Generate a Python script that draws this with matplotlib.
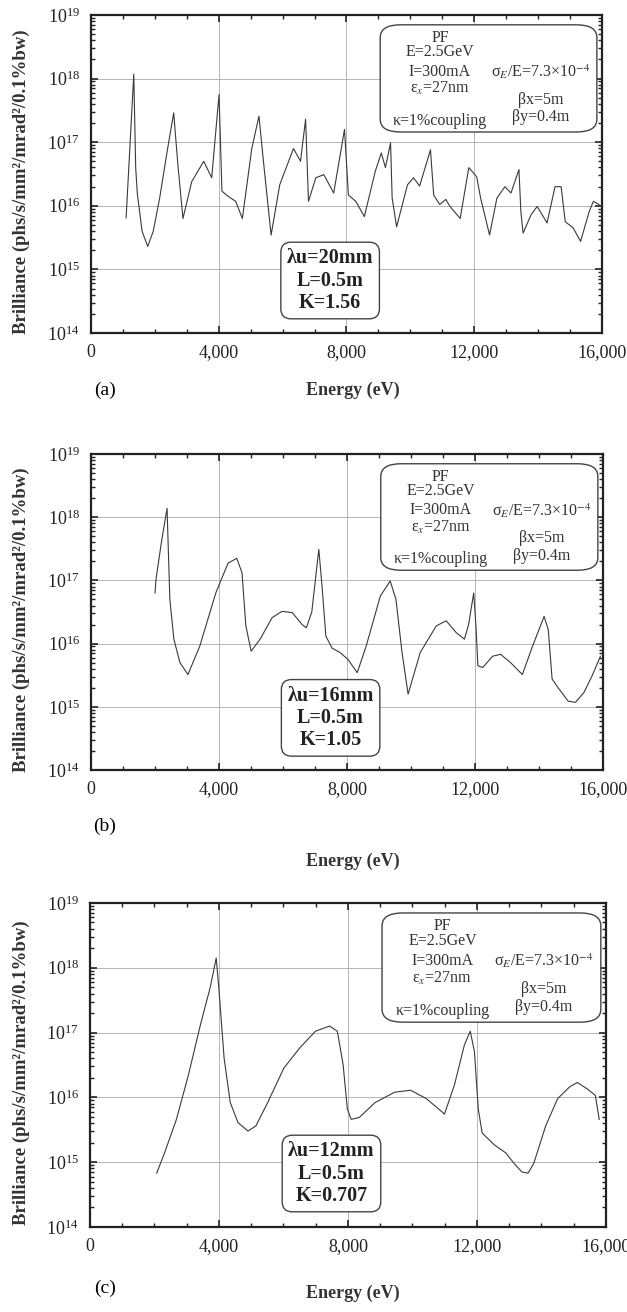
import numpy as np
import matplotlib
matplotlib.use('Agg')
import matplotlib.pyplot as plt
from matplotlib.patches import FancyBboxPatch
from matplotlib.ticker import LogLocator, MultipleLocator, FuncFormatter, LogFormatterMathtext, NullFormatter

plt.rcParams['font.family'] = ['Liberation Serif', 'DejaVu Serif']
plt.rcParams['mathtext.fontset'] = 'stix'

# photon energy (eV) and log10 brilliance
energy_a = [1100, 1200, 1340, 1400, 1450, 1600, 1777, 1950, 2150, 2400, 2590, 2720, 2880,
            3155, 3530, 3780, 4010, 4100, 4290, 4530, 4740, 5035, 5260, 5410, 5640, 5910,
            6340, 6560, 6720, 6810, 7040, 7290, 7600, 7938, 8060, 8290, 8560, 8900, 9090,
            9220, 9380, 9430, 9570, 9910, 10100, 10290, 10630, 10730, 10920, 11110, 11240,
            11560, 11830, 12020, 12080, 12200, 12480, 12710, 12960, 13150, 13400, 13460,
            13530, 13780, 13970, 14280, 14530, 14720, 14850, 15100, 15330, 15600, 15730, 15910]
log_brill_a = [15.81, 16.75, 18.07, 16.6, 16.2, 15.6, 15.36, 15.6, 16.12, 16.9, 17.46, 16.65,
               15.8, 16.38, 16.7, 16.44, 17.75, 16.23, 16.15, 16.07, 15.8, 16.9, 17.41, 16.65,
               15.54, 16.33, 16.9, 16.7, 17.36, 16.07, 16.44, 16.49, 16.2, 17.2, 16.17, 16.07,
               15.83, 16.54, 16.83, 16.6, 16.99, 16.12, 15.67, 16.33, 16.44, 16.31, 16.88,
               16.17, 16.02, 16.1, 15.99, 15.8, 16.6, 16.49, 16.45, 16.12, 15.54, 16.12, 16.3,
               16.2, 16.57, 15.91, 15.57, 15.86, 15.99, 15.73, 16.3, 16.3, 15.75, 15.65, 15.44,
               15.91, 16.07, 16.02]

energy_b = [2001, 2030, 2200, 2377, 2465, 2590, 2780, 3030, 3400, 3900, 4280, 4555, 4720,
            4840, 5005, 5285, 5660, 5970, 6290, 6600, 6730, 6900, 7120, 7220, 7340, 7530,
            7780, 8030, 8320, 8600, 9040, 9350, 9530, 9720, 9910, 10290, 10790, 11100, 11420,
            11670, 11800, 11960, 12030, 12090, 12240, 12550, 12800, 13110, 13480, 13800,
            14160, 14290, 14410, 14600, 14910, 15140, 15410, 15660, 15920]
log_brill_b = [16.8, 17.01, 17.6, 18.14, 16.7, 16.07, 15.7, 15.51, 15.96, 16.8, 17.27, 17.35,
               17.12, 16.28, 15.88, 16.07, 16.41, 16.51, 16.49, 16.3, 16.25, 16.5, 17.49, 16.91,
               16.12, 15.93, 15.86, 15.75, 15.54, 15.96, 16.75, 16.99, 16.7, 15.86, 15.2,
               15.86, 16.28, 16.36, 16.17, 16.07, 16.3, 16.8, 16.28, 15.65, 15.62, 15.8, 15.83,
               15.7, 15.51, 15.96, 16.43, 16.22, 15.44, 15.3, 15.09, 15.07, 15.23, 15.49, 15.8]

energy_c = [2068, 2310, 2680, 3050, 3430, 3730, 3914, 4001, 4160, 4350, 4590, 4900, 5145,
            5510, 6010, 6500, 6990, 7430, 7670, 7850, 7980, 8100, 8350, 8840, 9450, 9940,
            10430, 10930, 10990, 11300, 11610, 11790, 11920, 12040, 12160, 12530, 12900,
            13150, 13390, 13580, 13760, 14130, 14500, 14870, 15110, 15420, 15670, 15790]
log_brill_c = [14.83, 15.14, 15.66, 16.34, 17.13, 17.7, 18.15, 17.65, 16.6, 15.92, 15.61,
               15.48, 15.56, 15.92, 16.45, 16.76, 17.02, 17.1, 17.02, 16.5, 15.82, 15.66, 15.69,
               15.92, 16.08, 16.11, 15.98, 15.77, 15.74, 16.19, 16.81, 17.02, 16.71, 15.82,
               15.45, 15.27, 15.14, 14.98, 14.85, 14.83, 14.98, 15.56, 15.98, 16.16, 16.23,
               16.13, 16.03, 15.66]

panel_tags = ['(a)', '(b)', '(c)']
undulator_text = ['λu=20mm\nL=0.5m\nK=1.56',
                  'λu=16mm\nL=0.5m\nK=1.05',
                  'λu=12mm\nL=0.5m\nK=0.707']
ring_lines = ['PF', 'E=2.5GeV', 'I=300mA', r'ε$_x$=27nm', 'κ=1%coupling']

x_ticks = [0, 4000, 8000, 12000, 16000]

fig = plt.figure(figsize=(6.27, 13.12), dpi=100)

axes_rects = [[0.1451, 0.7462, 0.815, 0.2424],
              [0.1451, 0.4131, 0.8166, 0.2409],
              [0.1435, 0.0648, 0.823, 0.2470]]
tag_y = [0.7027, 0.3704, 0.0183]
xlabel_y = [0.7027, 0.3438, 0.0145]

series = [(energy_a, log_brill_a), (energy_b, log_brill_b), (energy_c, log_brill_c)]

for i, (e, lb) in enumerate(series):
    ax = fig.add_axes(axes_rects[i])
    ax.plot(e, 10 ** np.array(lb), color='#3a3a3a', lw=0.8)
    ax.set_yscale('log')
    ax.set_xlim(0, 16000)
    ax.set_ylim(1e14, 1e19)

    ax.set_xticks(x_ticks)
    ax.xaxis.set_major_formatter(FuncFormatter(lambda v, p: f'{v:,.0f}'))
    ax.xaxis.set_minor_locator(MultipleLocator(1000))
    ax.yaxis.set_major_locator(LogLocator(base=10, numticks=10))
    ax.yaxis.set_minor_locator(LogLocator(base=10, subs=np.arange(2, 10), numticks=20))
    ax.yaxis.set_major_formatter(LogFormatterMathtext())
    ax.yaxis.set_minor_formatter(NullFormatter())
    ax.tick_params(which='both', direction='in', top=True, right=True, colors='#222222')
    ax.tick_params(which='major', length=5, width=1.2, labelsize=13, pad=8)
    ax.tick_params(which='minor', length=3, width=1.0)
    for s in ax.spines.values():
        s.set_linewidth(1.6)
        s.set_color('#222222')
    ax.grid(True, which='major', color='#aaaaaa', lw=0.6)

    # storage ring parameters
    ax.add_patch(FancyBboxPatch((0.566, 0.632), 0.424, 0.337,
                                boxstyle='round,pad=0,rounding_size=0.04',
                                transform=ax.transAxes, fc='white', ec='#444444', lw=1.0,
                                zorder=3))
    for line, yy in zip(ring_lines, [0.928, 0.882, 0.822, 0.768, 0.668]):
        ax.text(0.683, yy, line, transform=ax.transAxes, ha='center', va='center',
                fontsize=11.5, color='#333333', zorder=4)
    ax.text(0.88, 0.822, r'σ$_E$/E=7.3×10$^{-4}$', transform=ax.transAxes, ha='center',
            va='center', fontsize=11.5, color='#333333', zorder=4)
    ax.text(0.88, 0.733, 'βx=5m', transform=ax.transAxes, ha='center', va='center',
            fontsize=11.5, color='#333333', zorder=4)
    ax.text(0.88, 0.678, 'βy=0.4m', transform=ax.transAxes, ha='center', va='center',
            fontsize=11.5, color='#333333', zorder=4)

    # undulator parameters
    ax.text(0.468, 0.165, undulator_text[i], transform=ax.transAxes, ha='center',
            va='center', fontsize=14.5, fontweight='bold', color='#222222', linespacing=1.15,
            zorder=4,
            bbox=dict(boxstyle='round,pad=0.3,rounding_size=0.5', fc='white',
                      ec='#444444', lw=1.0))

    fig.text(0.1675, tag_y[i], panel_tags[i], ha='center', va='center', fontsize=14)
    fig.text(0.563, xlabel_y[i], 'Energy (eV)', ha='center', va='center', fontsize=13,
             fontweight='bold', color='#333333')
    fig.text(0.034, axes_rects[i][1] + axes_rects[i][3] / 2 - 0.006,
             'Brilliance (phs/s/mm²/mrad²/0.1%bw)', rotation=90, ha='center', va='center',
             fontsize=13.5, fontweight='bold', color='#333333')

fig.savefig('out.png', dpi=100)
